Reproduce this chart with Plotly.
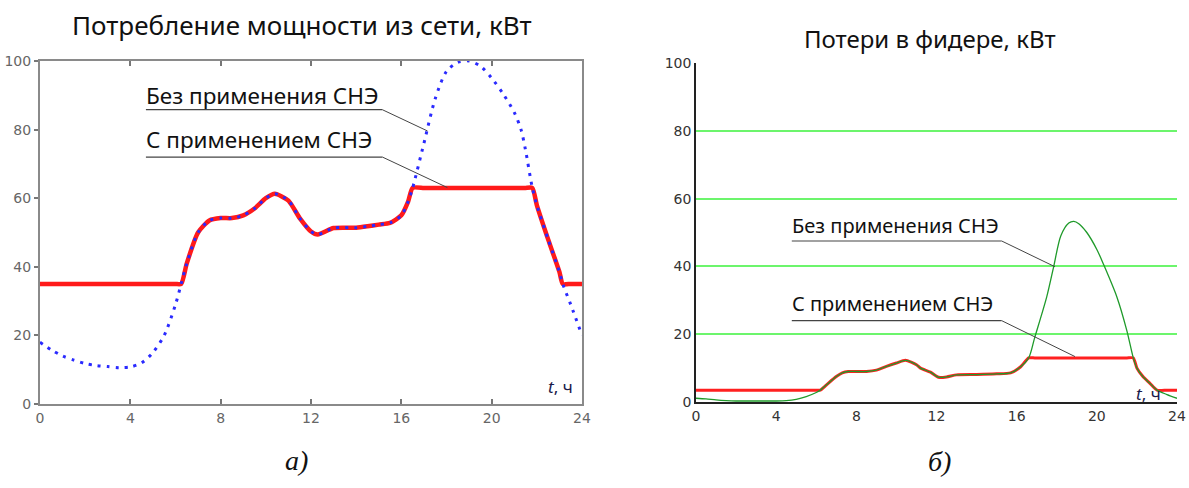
import numpy as np
import plotly.graph_objects as go

# ---------------- data ----------------
# (a) power drawn from grid, kW
t_a = [0, 0.5, 1, 1.5, 2, 2.5, 3, 3.5, 4, 4.5, 5, 5.5, 6, 6.25, 6.5, 7, 7.5, 8, 8.5, 9,
       9.5, 10, 10.4, 11, 11.5, 12, 12.3, 13, 14, 14.5, 15, 15.5, 16, 16.3, 16.5, 17,
       17.5, 18, 18.5, 19, 19.5, 20, 20.5, 21, 21.3, 21.5, 21.8, 22, 22.5, 23, 23.15, 23.5, 24]
p_no = [18, 15.8, 14, 12.8, 11.8, 11.2, 10.9, 10.6, 10.8, 12, 15, 20, 29, 35, 41, 50, 53.5, 54.2, 54.2, 55,
        57, 60, 61.3, 59.3, 54.2, 50.3, 49.4, 51.3, 51.4, 51.8, 52.3, 52.8, 55, 59, 63, 76,
        89, 97, 99.6, 100, 98.5, 95, 90.5, 85, 80, 74, 63, 58, 48, 38.5, 35, 29, 20]
p_min_a, p_max_a = 35, 63

# (б) feeder losses, kW
t_b = [0, 0.5, 1, 1.5, 2, 3, 4, 4.5, 5, 5.5, 6, 6.2, 6.5, 7, 7.3, 7.6, 8, 8.5, 9, 9.5,
       10, 10.45, 11, 11.2, 11.7, 12.1, 12.5, 13, 14, 15, 15.7, 16.2, 16.6, 16.9, 17.5,
       17.85, 18.2, 18.6, 18.85, 19.1, 19.5, 20, 20.35, 21, 21.5, 21.82, 22, 22.3, 22.65,
       23, 23.5, 24]
l_no = [1.1, 0.9, 0.6, 0.4, 0.3, 0.3, 0.3, 0.4, 0.8, 1.6, 2.8, 3.5, 5, 7.5, 8.6, 9.0, 9.0, 9.0, 9.4, 10.5,
        11.5, 12.3, 11.0, 10.0, 8.8, 7.3, 7.4, 8.0, 8.1, 8.3, 8.6, 10.4, 13, 19, 31,
        40, 49, 52.8, 53.3, 52.6, 50, 45, 40.4, 31, 21, 13, 10, 7.5, 5.5,
        3.5, 2.2, 1.1]
l_min_b, l_max_b = 3.5, 13

x_ticks = [0, 4, 8, 12, 16, 20, 24]
y_ticks = [0, 20, 40, 60, 80, 100]

label_no = "Без применения СНЭ"
label_with = "С применением СНЭ"
title_a = "Потребление мощности из сети, кВт"
title_b = "Потери в фидере, кВт"

p_with = list(np.clip(p_no, p_min_a, p_max_a))
l_with = list(np.clip(l_no, l_min_b, l_max_b))

# ---------------- figure ----------------
W, H = 1189, 488
fig = go.Figure()

fig.add_trace(go.Scatter(x=t_a, y=p_with, mode="lines", xaxis="x", yaxis="y",
                         line=dict(color="#ff1a1a", width=4.5, shape="spline", smoothing=0.6),
                         showlegend=False))
fig.add_trace(go.Scatter(x=t_a, y=p_no, mode="lines", xaxis="x", yaxis="y",
                         line=dict(color="#2a2aff", width=3, dash="3px,6px", shape="spline", smoothing=0.8),
                         showlegend=False))
fig.add_trace(go.Scatter(x=t_b, y=l_with, mode="lines", xaxis="x3", yaxis="y3",
                         line=dict(color="#ff2020", width=3, shape="spline", smoothing=0.6),
                         showlegend=False))
fig.add_trace(go.Scatter(x=t_b, y=l_no, mode="lines", xaxis="x3", yaxis="y3",
                         line=dict(color="#1f9a2a", width=1.3, shape="spline", smoothing=0.8),
                         showlegend=False))

tickfont_a = dict(family="DejaVu Sans", size=14, color="#666666")
tickfont_b = dict(family="DejaVu Sans", size=14, color="#333333")

dom_xa = [40 / W, 582 / W]
dom_ya = [(H - 404) / H, (H - 61) / H]
dom_xb = [696 / W, 1177 / W]
dom_yb = [(H - 402) / H, (H - 63) / H]

fig.update_layout(
    width=W, height=H, autosize=False, margin=dict(l=0, r=0, t=0, b=0, pad=0),
    paper_bgcolor="white", plot_bgcolor="white",
    xaxis=dict(domain=dom_xa, range=[0, 24], anchor="y", tickvals=x_ticks, automargin=False,
               ticks="inside", ticklen=5, tickcolor="#777", tickwidth=1.5,
               showline=True, linecolor="#8a8a8a", linewidth=2, mirror="ticks",
               showgrid=False, zeroline=False, tickfont=tickfont_a, fixedrange=True),
    yaxis=dict(domain=dom_ya, range=[0, 100], anchor="x", tickvals=y_ticks, automargin=False,
               ticks="outside", ticklen=4, tickcolor="#777", tickwidth=1.5,
               showline=True, linecolor="#8a8a8a", linewidth=2, mirror=True,
               showgrid=False, zeroline=False, tickfont=tickfont_a, fixedrange=True),
    yaxis2=dict(range=[0, 100], overlaying="y", side="right", anchor="x", tickvals=y_ticks,
                automargin=False,
                ticks="inside", ticklen=5, tickcolor="#777", tickwidth=1.5,
                showticklabels=False, showline=False, showgrid=False, zeroline=False),
    xaxis3=dict(domain=dom_xb, range=[0, 24], anchor="y3", tickvals=x_ticks, automargin=False,
                ticks="", showline=True, linecolor="#222", linewidth=1.5,
                showgrid=False, zeroline=False, tickfont=tickfont_b, fixedrange=True),
    xaxis4=dict(range=[0, 24], overlaying="x3", side="top", anchor="y3", tickvals=x_ticks,
                automargin=False,
                ticks="inside", ticklen=6, tickcolor="#333", tickwidth=1.5,
                showticklabels=False, showline=True, linecolor="#999", linewidth=1.5,
                showgrid=False, zeroline=False),
    yaxis3=dict(domain=dom_yb, range=[0, 100], anchor="x3", tickvals=y_ticks, automargin=False,
                ticks="", showline=True, linecolor="#222", linewidth=1.5,
                showgrid=True, gridcolor="#6cf56c", gridwidth=1.5, zeroline=False,
                tickfont=tickfont_b, fixedrange=True),
    yaxis4=dict(range=[0, 100], overlaying="y3", side="right", anchor="x3", automargin=False,
                showticklabels=False, ticks="", showline=True, linecolor="#999", linewidth=1.5,
                showgrid=False, zeroline=False),
)

# titles
fig.add_annotation(text=title_a, x=302 / W, y=(H - 25) / H, xref="paper", yref="paper",
                   xanchor="center", yanchor="middle",
                   showarrow=False, font=dict(family="Noto Sans", size=26, color="#111"))
fig.add_annotation(text=title_b, x=930 / W, y=(H - 38) / H, xref="paper", yref="paper",
                   xanchor="center", yanchor="middle",
                   showarrow=False, font=dict(family="Noto Sans", size=24, color="#111"))

# callouts
callouts = [
    # xref, yref, text, font size, text x, text y, underline y, underline x0, x1, leader end (x, y)
    ("x", "y", label_no, 22.5, 4.6, 89.8, 85.8, 4.69, 15.16, 17.16, 79.6),
    ("x", "y", label_with, 22.5, 4.6, 77.2, 72.0, 4.69, 15.16, 18.04, 63.1),
    ("x3", "y3", label_no, 20, 4.7, 52.0, 47.5, 4.78, 15.25, 17.91, 39.9),
    ("x3", "y3", label_with, 20, 4.7, 29.0, 24.0, 4.78, 15.25, 18.91, 13.4),
]
for xr, yr, txt, fs, tx, ty, uy, ux0, ux1, lx, ly in callouts:
    fig.add_annotation(text=txt, x=tx, y=ty, xref=xr, yref=yr, xanchor="left", yanchor="middle",
                       showarrow=False, font=dict(family="Noto Sans", size=fs, color="#111"))
    fig.add_shape(type="line", xref=xr, yref=yr, x0=ux0, x1=ux1, y0=uy, y1=uy,
                  line=dict(color="#444", width=1.2))
    fig.add_shape(type="line", xref=xr, yref=yr, x0=ux1, x1=lx, y0=uy, y1=ly,
                  line=dict(color="#444", width=1))

# t, ч labels
tlab = "<i>t</i>, ч"
fig.add_annotation(text=tlab, x=23.7, y=5, xref="x", yref="y", xanchor="right", yanchor="middle",
                   showarrow=False, font=dict(family="Noto Sans", size=17, color="#1a1a4a"))
fig.add_annotation(text=tlab, x=23.3, y=2.6, xref="x3", yref="y3", xanchor="right", yanchor="middle",
                   showarrow=False, font=dict(family="Noto Sans", size=17, color="#1a1a4a"))

# sub-figure labels
sub_font = dict(family="Liberation Serif", size=28, color="#111")
fig.add_annotation(text="<i>а)</i>", x=296 / W, y=(H - 460) / H, xref="paper", yref="paper",
                   xanchor="center", yanchor="middle", showarrow=False, font=sub_font)
fig.add_annotation(text="<i>б)</i>", x=939 / W, y=(H - 461) / H, xref="paper", yref="paper",
                   xanchor="center", yanchor="middle", showarrow=False, font=sub_font)

post = ("document.documentElement.style.overflow='hidden';"
        "document.body.style.margin='0';document.body.style.overflow='hidden';")
fig.write_html("out.html", config={"displayModeBar": False}, post_script=post)
